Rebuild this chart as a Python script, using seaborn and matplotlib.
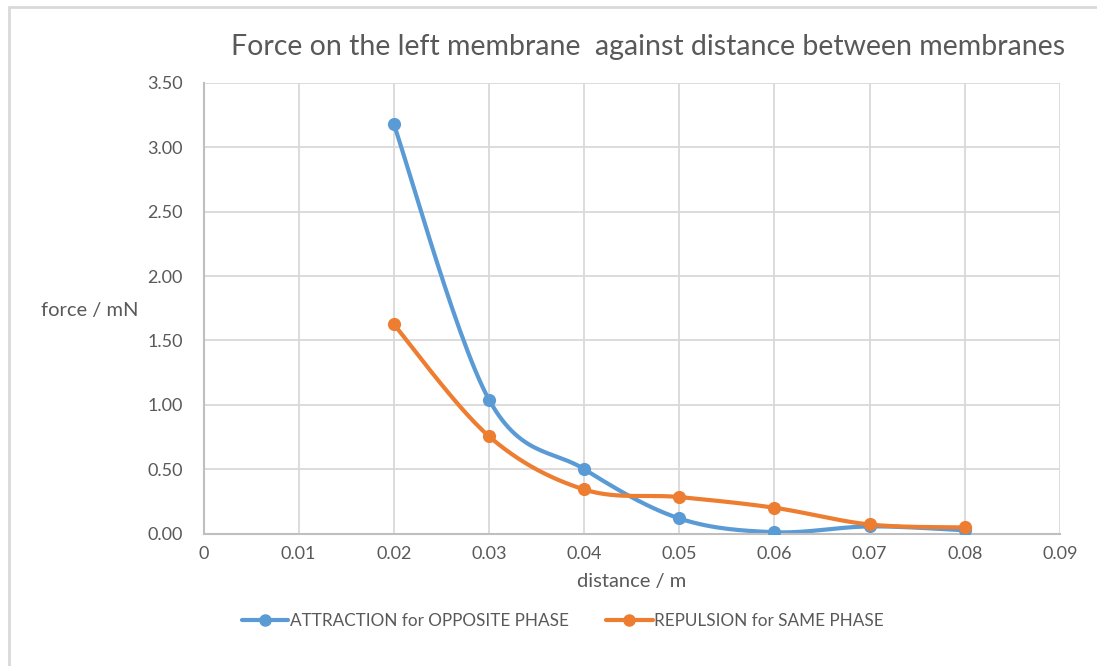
import numpy as np
import pandas as pd
import matplotlib
matplotlib.use("Agg")
import matplotlib.pyplot as plt
import seaborn as sns
from matplotlib.lines import Line2D

# ------------------------------------------------------------
# data
# ------------------------------------------------------------
distance = [0.02, 0.03, 0.04, 0.05, 0.06, 0.07, 0.08]
attraction = [3.18, 1.04, 0.50, 0.117, 0.01, 0.055, 0.025]
repulsion = [1.625, 0.755, 0.342, 0.283, 0.20, 0.07, 0.047]

name_att = "ATTRACTION for OPPOSITE PHASE"
name_rep = "REPULSION for SAME PHASE"
blue = "#5b9bd5"
orange = "#ed7d31"
txt = "#595959"

sns.set_theme(style="white")
plt.rcParams["font.family"] = ["Lato", "DejaVu Sans"]


def smooth(x, y, n=30):
    # Excel-like smoothed line (bezier through the points)
    x = np.asarray(x, float)
    y = np.asarray(y, float)
    px = np.concatenate([[x[0]], x, [x[-1]]])
    py = np.concatenate([[y[0]], y, [y[-1]]])
    xs, ys = [], []
    t = np.linspace(0, 1, n)
    for i in range(len(x) - 1):
        p0 = np.array([px[i + 1], py[i + 1]])
        p3 = np.array([px[i + 2], py[i + 2]])
        c1 = p0 + (np.array([px[i + 2], py[i + 2]]) - np.array([px[i], py[i]])) / 6
        c2 = p3 - (np.array([px[i + 3], py[i + 3]]) - np.array([px[i + 1], py[i + 1]])) / 6
        b = ((1 - t) ** 3)[:, None] * p0 + (3 * (1 - t) ** 2 * t)[:, None] * c1 \
            + (3 * (1 - t) * t ** 2)[:, None] * c2 + (t ** 3)[:, None] * p3
        xs.extend(b[:, 0])
        ys.extend(b[:, 1])
    return xs, ys


df = pd.DataFrame({"distance": distance, name_att: attraction, name_rep: repulsion})

fig = plt.figure(figsize=(10.97, 6.66), dpi=100)
ax = fig.add_axes([203.5 / 1097, 1 - 533.5 / 666, (1060 - 203.5) / 1097, (533.5 - 83) / 666])

for name, col in [(name_att, blue), (name_rep, orange)]:
    sx, sy = smooth(df["distance"], df[name])
    sns.lineplot(x=sx, y=sy, ax=ax, color=col, lw=3, sort=False, estimator=None)
    sns.scatterplot(data=df, x="distance", y=name, ax=ax, color=col, s=90,
                    edgecolor=col, linewidth=0, zorder=3)

ax.set_xlim(0, 0.09)
ax.set_ylim(0, 3.5)
ax.set_xticks(np.arange(0, 0.0901, 0.01))
ax.set_xticklabels(["0"] + [f"{v:.2f}" for v in np.arange(0.01, 0.0901, 0.01)])
ax.set_yticks(np.arange(0, 3.501, 0.5))
ax.set_yticklabels([f"{v:.2f}" for v in np.arange(0, 3.501, 0.5)])
ax.tick_params(axis="both", labelsize=13, colors=txt, length=0)
ax.tick_params(axis="x", pad=9)
ax.tick_params(axis="y", pad=15)
ax.grid(True, color="#d9d9d9", lw=1.3)
ax.set_axisbelow(True)
for s in ["top", "right"]:
    ax.spines[s].set_visible(False)
for s in ["left", "bottom"]:
    ax.spines[s].set_color("#bfbfbf")
    ax.spines[s].set_linewidth(1.5)

ax.set_xlabel("distance / m", fontsize=14.5, color=txt, labelpad=8)
ax.set_ylabel("")
fig.text(90 / 1097, 1 - 310 / 666, "force / mN", fontsize=14.5, color=txt,
         ha="center", va="center")
fig.text(648 / 1097, 1 - 47 / 666, "Force on the left membrane  against distance between membranes",
         fontsize=20.5, color=txt, ha="center", va="center")

handles = [Line2D([], [], color=blue, lw=3, marker="o", ms=8),
           Line2D([], [], color=orange, lw=3, marker="o", ms=8)]
fig.legend(handles, [name_att, name_rep], loc="center", bbox_to_anchor=(563 / 1097, 1 - 621 / 666),
           ncol=2, frameon=False, fontsize=12.3, labelcolor=txt, handlelength=2.7,
           handletextpad=0.1, columnspacing=2.2)

# outer chart border (left and top edges visible in the screenshot)
fig.add_artist(Line2D([9 / 1097, 9 / 1097], [0, 1 - 7 / 666], color="#d9d9d9", lw=2,
                      transform=fig.transFigure))
fig.add_artist(Line2D([9 / 1097, 1], [1 - 7 / 666, 1 - 7 / 666], color="#d9d9d9", lw=2,
                      transform=fig.transFigure))

fig.savefig("out.png", dpi=100)
